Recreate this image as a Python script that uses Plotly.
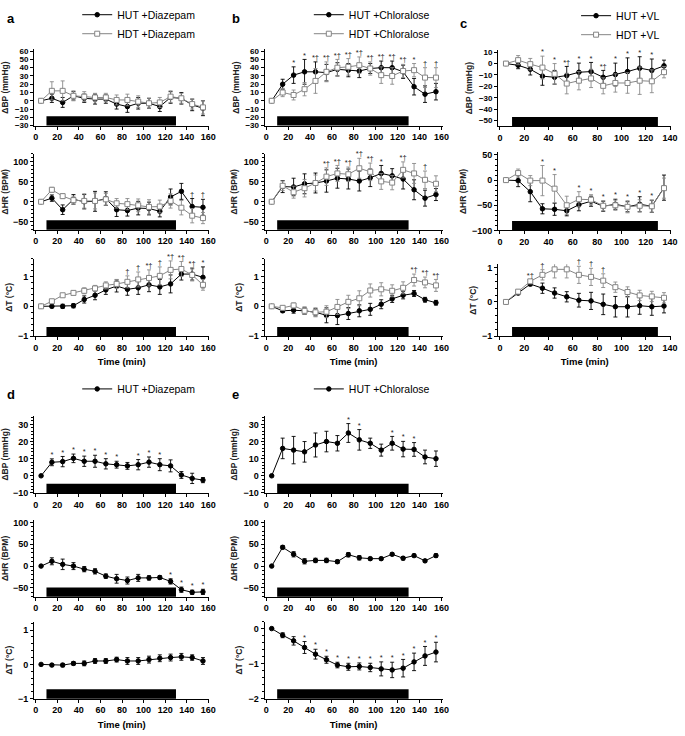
import plotly.graph_objects as go

W, H = 685, 736

# ------------------------- DATA -------------------------
TIME_A = [5, 15, 25, 35, 45, 55, 65, 75, 85, 95, 105, 115, 125, 135, 145, 155]
TIME_C = [5, 15, 25, 35, 45, 55, 65, 75, 85, 95, 105, 115, 125, 135]
TILT_START, TILT_END = 10, 130

# panel a: Diazepam
A_BP_HUT = [0, 3, -2, 6, 3, 2, 2, -4, -7, -3, -3, -7, 4, 3, -5, -9]
A_BP_HUT_ERR = [0, 5, 6, 5, 5, 6, 5, 6, 7, 7, 6, 6, 7, 7, 7, 9]
A_BP_HDT = [0, 12, 12, 6, 5, 4, 4, 1, 1, -1, -3, -2, 5, 3, -4, -8]
A_BP_HDT_ERR = [0, 11, 12, 6, 6, 5, 5, 6, 7, 7, 6, 6, 7, 6, 6, 8]
A_BP_SIG = [""] * 16

A_HR_HUT = [0, 9, -20, 6, 0, 1, 8, -20, -22, -16, -17, -24, 12, 26, -12, -14]
A_HR_HUT_ERR = [0, 8, 12, 12, 18, 25, 17, 17, 14, 17, 16, 14, 20, 20, 20, 20]
A_HR_HDT = [0, 30, 14, 4, 2, 2, 6, -4, -6, -9, -13, -12, 2, -15, -35, -41]
A_HR_HDT_ERR = [0, 6, 6, 10, 18, 20, 15, 12, 14, 16, 18, 16, 18, 18, 18, 14]
A_HR_SIG = ["", "", "", "", "", "", "", "", "", "", "", "", "", "", "†", "†"]

A_T_HUT = [0, 0, 0, 0.02, 0.23, 0.37, 0.55, 0.68, 0.57, 0.62, 0.72, 0.65, 0.75, 1.08, 1.08, 0.97]
A_T_HUT_ERR = [0, 0.05, 0.07, 0.07, 0.12, 0.15, 0.15, 0.2, 0.2, 0.22, 0.23, 0.25, 0.3, 0.2, 0.2, 0.35]
A_T_HDT = [0, 0.17, 0.37, 0.45, 0.52, 0.6, 0.7, 0.75, 0.82, 0.9, 0.95, 1.02, 1.22, 1.25, 1.05, 0.72]
A_T_HDT_ERR = [0, 0.05, 0.05, 0.07, 0.1, 0.1, 0.12, 0.15, 0.2, 0.25, 0.27, 0.3, 0.3, 0.25, 0.2, 0.18]
A_T_SIG = ["", "", "", "", "", "", "", "", "†", "†", "*†", "†", "*†", "*†", "*†", "*"]

# panel b: Chloralose
B_BP_HUT = [0, 20, 31, 35, 35, 34, 38, 37, 36, 39, 40, 40, 35, 17, 8, 11]
B_BP_HUT_ERR = [0, 6, 10, 15, 12, 10, 8, 8, 8, 6, 8, 8, 8, 10, 10, 10]
B_BP_HDT = [0, 10, 7, 14, 24, 35, 40, 41, 43, 39, 31, 30, 36, 37, 28, 28]
B_BP_HDT_ERR = [0, 5, 6, 8, 15, 12, 10, 10, 10, 8, 10, 10, 8, 8, 12, 12]
B_BP_SIG = ["", "", "*", "*", "*†", "*†", "*†", "*†", "*†", "*†", "*†", "*†", "*†", "*", "†", "†"]

B_HR_HUT = [0, 38, 37, 45, 47, 52, 59, 57, 52, 60, 71, 65, 57, 30, 9, 18]
B_HR_HUT_ERR = [0, 15, 22, 25, 25, 28, 25, 25, 25, 22, 20, 18, 25, 25, 20, 15]
B_HR_HDT = [0, 40, 24, 34, 47, 63, 71, 69, 84, 75, 51, 48, 80, 71, 55, 45]
B_HR_HDT_ERR = [0, 12, 15, 22, 20, 22, 20, 18, 25, 22, 20, 18, 20, 25, 22, 20]
B_HR_SIG = ["", "", "", "", "", "*†", "*†", "*†", "*†", "*†", "*", "", "*†", "", "†", ""]

B_T_HUT = [0, -0.15, -0.13, -0.15, -0.2, -0.3, -0.31, -0.24, -0.15, -0.1, 0.07, 0.25, 0.37, 0.43, 0.22, 0.12]
B_T_HUT_ERR = [0, 0.05, 0.1, 0.12, 0.12, 0.25, 0.3, 0.2, 0.2, 0.2, 0.15, 0.12, 0.12, 0.1, 0.08, 0.08]
B_T_HDT = [0, -0.05, 0.03, -0.15, -0.2, -0.18, -0.02, 0.15, 0.27, 0.53, 0.57, 0.52, 0.62, 0.88, 0.8, 0.7]
B_T_HDT_ERR = [0, 0.05, 0.08, 0.12, 0.15, 0.2, 0.25, 0.22, 0.25, 0.22, 0.22, 0.2, 0.2, 0.2, 0.18, 0.2]
B_T_SIG = [""] * 13 + ["*†", "*†", "*†"]

# panel c: VL
C_BP_HUT = [0, -1.5, -5, -11, -12, -10.5, -7.6, -7, -12, -9.6, -7, -4, -6, -2]
C_BP_HUT_ERR = [0, 3, 5, 8, 6, 8, 8, 8, 6, 10, 12, 10, 10, 5]
C_BP_HDT = [0, 3, -0.5, -3.5, -9, -17.5, -15, -13, -19.5, -17, -17, -15, -15.5, -7.5]
C_BP_HDT_ERR = [0, 4, 5, 10, 9, 9, 8, 8, 7, 8, 9, 12, 10, 5]
C_BP_SIG = ["", "", "", "*", "*", "*†", "*", "*", "*†", "*", "*", "*", "*", ""]

C_HR_HUT = [0, -1, -23, -57, -58, -61, -49, -42, -52, -48, -53, -48, -52, -15]
C_HR_HUT_ERR = [0, 12, 20, 10, 12, 10, 12, 10, 10, 10, 10, 15, 12, 25]
C_HR_HDT = [0, 14, -1, -1, -17, -50, -38, -39, -51, -50, -53, -51, -52, -16]
C_HR_HDT_ERR = [0, 8, 10, 30, 28, 18, 15, 10, 10, 10, 12, 12, 12, 20]
C_HR_SIG = ["", "", "", "*", "*", "", "*", "*", "*", "*", "*", "*", "*", ""]

C_T_HUT = [0, 0.26, 0.52, 0.4, 0.26, 0.15, 0.05, 0.03, -0.07, -0.14, -0.14, -0.11, -0.14, -0.12]
C_T_HUT_ERR = [0, 0.05, 0.05, 0.15, 0.15, 0.15, 0.2, 0.25, 0.3, 0.3, 0.3, 0.25, 0.25, 0.2]
C_T_HDT = [0, 0.3, 0.6, 0.79, 0.95, 0.95, 0.79, 0.73, 0.62, 0.43, 0.29, 0.19, 0.16, 0.12]
C_T_HDT_ERR = [0, 0.05, 0.05, 0.15, 0.25, 0.25, 0.25, 0.25, 0.2, 0.15, 0.15, 0.15, 0.15, 0.15]
C_T_SIG = ["", "", "*†", "†", "†", "†", "†", "†", "†", "", "", "", "", ""]

# panel d: HUT + Diazepam
D_BP_HUT = [0, 7.9, 8.3, 10.2, 8.5, 8.5, 7, 6.5, 5.8, 6.5, 8, 6.5, 5.8, 0.5, -1.5, -2.5]
D_BP_HUT_ERR = [0, 2, 3, 2.5, 3, 3.5, 3, 2, 2, 3, 3, 3.5, 3.5, 2, 3, 1.5]
D_BP_SIG = ["", "*", "*", "*", "*", "*", "*", "*", "", "*", "*", "*", "", "", "", ""]

D_HR_HUT = [0, 11, 4, 0, -7, -12, -23, -29, -33, -27, -27, -26, -35, -54, -60, -59]
D_HR_HUT_ERR = [0, 8, 12, 8, 6, 6, 5, 10, 8, 8, 5, 4, 6, 6, 5, 6]
D_HR_SIG = [""] * 12 + ["*", "*", "*", "*"]

D_T_HUT = [0, -0.02, -0.02, 0.03, 0.03, 0.1, 0.1, 0.14, 0.1, 0.1, 0.14, 0.18, 0.2, 0.22, 0.2, 0.1]
D_T_HUT_ERR = [0, 0.03, 0.05, 0.05, 0.07, 0.07, 0.07, 0.07, 0.1, 0.1, 0.1, 0.1, 0.1, 0.1, 0.08, 0.1]
D_T_SIG = [""] * 16

# panel e: HUT + Chloralose
E_BP_HUT = [0, 16, 15, 14, 18, 20, 19, 25, 21, 19, 15, 19, 15.6, 15.4, 11, 10]
E_BP_HUT_ERR = [0, 6, 8, 6, 7, 6, 4.5, 5.5, 6, 3, 3.5, 4, 4.5, 4, 4, 4.5]
E_BP_SIG = ["", "", "", "", "", "", "", "*", "*", "", "", "*", "*", "*", "", ""]

E_HR_HUT = [0, 43, 27, 11, 13, 13, 10, 26, 19, 17, 17, 27, 18, 24, 12, 24]
E_HR_HUT_ERR = [0, 4, 6, 6, 5, 5, 4, 5, 5, 3, 3, 3, 4, 3, 3, 4]
E_HR_SIG = [""] * 16

E_T_HUT = [0, -0.19, -0.35, -0.54, -0.73, -0.89, -1.04, -1.09, -1.08, -1.11, -1.15, -1.18, -1.13, -0.95, -0.78, -0.67]
E_T_HUT_ERR = [0, 0.07, 0.12, 0.17, 0.14, 0.1, 0.08, 0.1, 0.1, 0.12, 0.2, 0.22, 0.25, 0.25, 0.27, 0.28]
E_T_SIG = ["", "", ""] + ["*"] * 13

LEGENDS = {
    "a": ["HUT +Diazepam", "HDT +Diazepam"],
    "b": ["HUT +Chloralose", "HDT +Chloralose"],
    "c": ["HUT +VL", "HDT +VL"],
    "d": ["HUT +Diazepam"],
    "e": ["HUT +Chloralose"],
}

# ------------------------- LAYOUT (pixel geometry) -------------------------
COLS = {  # x0 px, x1 px, x range
    "a": (33.4, 210.6, [-1.5, 161]),
    "b": (266.3, 446.1, [-1.5, 161]),
    "c": (502.2, 677.2, [-1.5, 141]),
    "d": (33.4, 210.6, [-1.5, 161]),
    "e": (266.3, 446.1, [-1.5, 161]),
}

FONT = "Liberation Sans, Arial, sans-serif"
BLACK = "#000000"
GREY = "#858585"

panels = [
    ("a", "BP", 40.3, 118, [-30, 62], 10, None, "ΔBP (mmHg)",
     [(A_BP_HUT, A_BP_HUT_ERR), (A_BP_HDT, A_BP_HDT_ERR)], A_BP_SIG),
    ("a", "HR", 146.9, 224.2, [-70, 120], 50, 10, "ΔHR (BPM)",
     [(A_HR_HUT, A_HR_HUT_ERR), (A_HR_HDT, A_HR_HDT_ERR)], A_HR_SIG),
    ("a", "T", 253.7, 333, [-1, 1.6], 1, 0.2, "ΔT (°C)",
     [(A_T_HUT, A_T_HUT_ERR), (A_T_HDT, A_T_HDT_ERR)], A_T_SIG),
    ("b", "BP", 40.3, 118, [-30, 62], 10, None, "ΔBP (mmHg)",
     [(B_BP_HUT, B_BP_HUT_ERR), (B_BP_HDT, B_BP_HDT_ERR)], B_BP_SIG),
    ("b", "HR", 146.9, 224.2, [-70, 120], 50, 10, "ΔHR (BPM)",
     [(B_HR_HUT, B_HR_HUT_ERR), (B_HR_HDT, B_HR_HDT_ERR)], B_HR_SIG),
    ("b", "T", 253.7, 333, [-1, 1.6], 1, 0.2, "ΔT (°C)",
     [(B_T_HUT, B_T_HUT_ERR), (B_T_HDT, B_T_HDT_ERR)], B_T_SIG),
    ("c", "BP", 40.7, 118.8, [-55, 12], 10, None, "ΔBP (mmHg)",
     [(C_BP_HUT, C_BP_HUT_ERR), (C_BP_HDT, C_BP_HDT_ERR)], C_BP_SIG),
    ("c", "HR", 145.4, 225, [-100, 55], 50, 10, "ΔHR (BPM)",
     [(C_HR_HUT, C_HR_HUT_ERR), (C_HR_HDT, C_HR_HDT_ERR)], C_HR_SIG),
    ("c", "T", 259.5, 333, [-1, 1.1], 1, 0.2, "ΔT (°C)",
     [(C_T_HUT, C_T_HUT_ERR), (C_T_HDT, C_T_HDT_ERR)], C_T_SIG),
    ("d", "BP", 414.3, 493, [-10, 35], 10, 2, "ΔBP (mmHg)",
     [(D_BP_HUT, D_BP_HUT_ERR)], D_BP_SIG),
    ("d", "HR", 520.8, 598.9, [-70, 105], 50, 10, "ΔHR (BPM)",
     [(D_HR_HUT, D_HR_HUT_ERR)], D_HR_SIG),
    ("d", "T", 624.3, 703, [-1, 1.25], 1, 0.2, "ΔT (°C)",
     [(D_T_HUT, D_T_HUT_ERR)], D_T_SIG),
    ("e", "BP", 414.3, 493, [-10, 35], 10, 2, "ΔBP (mmHg)",
     [(E_BP_HUT, E_BP_HUT_ERR)], E_BP_SIG),
    ("e", "HR", 520.8, 598.9, [-70, 105], 50, 10, "ΔHR (BPM)",
     [(E_HR_HUT, E_HR_HUT_ERR)], E_HR_SIG),
    ("e", "T", 624.3, 703, [-2, 0.2], 1, 0.2, "ΔT (°C)",
     [(E_T_HUT, E_T_HUT_ERR)], E_T_SIG),
]

LEGEND_IDS = {"a": "legend", "b": "legend2", "c": "legend3", "d": "legend4", "e": "legend5"}
LEGEND_POS = {"a": (77, -10), "b": (311, -10), "c": (581, -9), "d": (77, 372), "e": (311, 372)}

fig = go.Figure()
layout = {}
shapes = []

for i, (pn, var, top, bot, yr, dt, minor, ytitle, series, sig) in enumerate(panels, start=1):
    x0, x1, xr = COLS[pn]
    times = TIME_C if pn == "c" else TIME_A
    key = "" if i == 1 else str(i)
    xa, ya = f"x{key}", f"y{key}"
    for s, (vals, errs) in enumerate(series):
        hut = s == 0
        col = BLACK if hut else GREY
        fig.add_trace(go.Scatter(
            x=times, y=vals, xaxis=xa, yaxis=ya,
            mode="lines+markers",
            name=LEGENDS[pn][s],
            legend=LEGEND_IDS[pn],
            showlegend=(var == "BP"),
            line=dict(color=col, width=1),
            marker=dict(symbol="circle" if hut else "square",
                        size=4.5 if hut else 5,
                        color=BLACK if hut else "white",
                        line=dict(color=col, width=1)),
            error_y=dict(type="data", array=errs, color="#000000" if hut else "#8a8a8a",
                         thickness=0.9, width=2),
            cliponaxis=False,
        ))
    tops = [max(v[k] + e[k] for v, e in series) for k in range(len(times))]
    fig.add_trace(go.Scatter(
        x=times, y=tops, xaxis=xa, yaxis=ya, mode="text", text=sig,
        textposition="top center", showlegend=False, hoverinfo="skip",
        textfont=dict(family=FONT, size=7.5, color="#222222"),
        cliponaxis=False,
    ))

    xd = [x0 / W, x1 / W]
    yd = [1 - bot / H, 1 - top / H]
    xaxis = dict(domain=xd, anchor=ya, range=xr, dtick=20, tick0=0,
                 showline=True, linecolor=BLACK, linewidth=1,
                 ticks="outside", ticklen=3, tickwidth=1, tickcolor=BLACK,
                 showgrid=False, zeroline=False,
                 tickfont=dict(family=FONT, size=9, color=BLACK, weight="bold"))
    if var == "T":
        xaxis["title"] = dict(text="Time (min)", standoff=6,
                              font=dict(family=FONT, size=9.5, color=BLACK, weight="bold"))
    ytick_size = 8 if (var == "BP" and pn in "abc") else 9
    yaxis = dict(domain=yd, anchor=xa, range=yr, dtick=dt, tick0=0,
                 showline=True, linecolor=BLACK, linewidth=1,
                 ticks="outside", ticklen=3, tickwidth=1, tickcolor=BLACK,
                 showgrid=False, zeroline=False,
                 tickfont=dict(family=FONT, size=ytick_size, color=BLACK, weight="bold"),
                 title=dict(text=ytitle, standoff=4,
                            font=dict(family=FONT, size=8.5, color="#222222", weight="bold")))
    if minor:
        yaxis["minor"] = dict(dtick=minor, ticks="outside", ticklen=2, tickcolor=BLACK, showgrid=False)
    layout[f"xaxis{key}"] = xaxis
    layout[f"yaxis{key}"] = yaxis

    bar_h = 9.5 / (bot - top)
    shapes.append(dict(type="rect", xref=xa, yref=f"{ya} domain",
                       x0=TILT_START, x1=TILT_END, y0=0, y1=bar_h,
                       fillcolor=BLACK, line=dict(width=0), layer="above"))

for pn, lid in LEGEND_IDS.items():
    lx, ly = LEGEND_POS[pn]
    layout[lid] = dict(x=lx / W, y=1 - ly / H, xanchor="left", yanchor="top",
                       bgcolor="rgba(0,0,0,0)", borderwidth=0,
                       font=dict(family=FONT, size=10.5, color=BLACK),
                       tracegroupgap=0, itemwidth=30)

letters = [("a", 4, 9), ("b", 231, 9), ("c", 462, 14), ("d", 4, 393), ("e", 231, 393)]
annotations = [dict(text=t, x=x / W, y=1 - y / H, xref="paper", yref="paper",
                    showarrow=False, xanchor="left", yanchor="middle",
                    font=dict(family=FONT, size=13, color=BLACK, weight="bold"))
               for t, x, y in letters]

fig.update_layout(
    width=W, height=H, margin=dict(l=0, r=0, t=0, b=0),
    paper_bgcolor="white", plot_bgcolor="white",
    shapes=shapes, annotations=annotations,
    **layout,
)

fig.write_html("out.html", config={"displayModeBar": False},
               post_script="document.body.style.margin='0px';")
